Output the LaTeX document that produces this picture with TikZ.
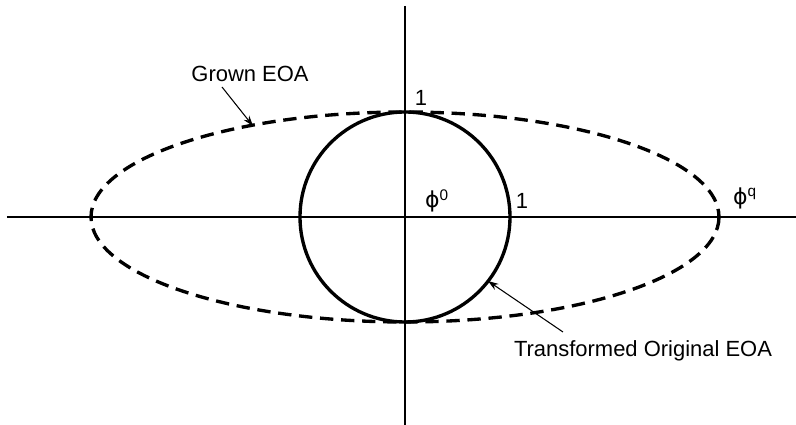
\documentclass[tikz,border=0pt]{standalone}
\usepackage{fontspec}
\setmainfont{Liberation Sans}
\newfontfamily\grkfont{DejaVu Sans}
\usetikzlibrary{arrows.meta,positioning}

\begin{document}
\begin{tikzpicture}[
  x=0.02cm, y=-0.02cm,
  >={Stealth[length=6pt,width=4pt]},
  every node/.style={font=\fontsize{12.5}{14}\selectfont, inner sep=0pt},
  axis/.style={line width=0.8pt},
  region/.style={line width=1.9pt},
  grown/.style={line width=1.9pt, dash pattern=on 7.6pt off 4.4pt},
  pointer/.style={->, line width=0.6pt},
]
\useasboundingbox (0,0) rectangle (796,425);

\coordinate (o) at (405,217);

% axes
\draw[axis] (7,217) -- (796,217);
\draw[axis] (405,6) -- (405,425);

% regions
\draw[grown] (o) ellipse [x radius=314, y radius=105];
\draw[region] (o) circle [radius=105];

% labels
\node (top1) at (421,98) {1};
\node (right1) at (522,201) {1};
\node (phi0) at (437,201) {{\grkfont ϕ}\textsuperscript{0}};
\node (phiq) at (745,198) {{\grkfont ϕ}\textsuperscript{q}};

\node (grown) at (250,74) {Grown EOA};
\node (orig) at (643,351) {Transformed Original EOA};

\coordinate (onell) at (253,126);
\coordinate (oncirc) at (488,281);
\draw[pointer] (222,87) -- (onell);
\draw[pointer] (563,332) -- (oncirc);
\end{tikzpicture}
\end{document}
